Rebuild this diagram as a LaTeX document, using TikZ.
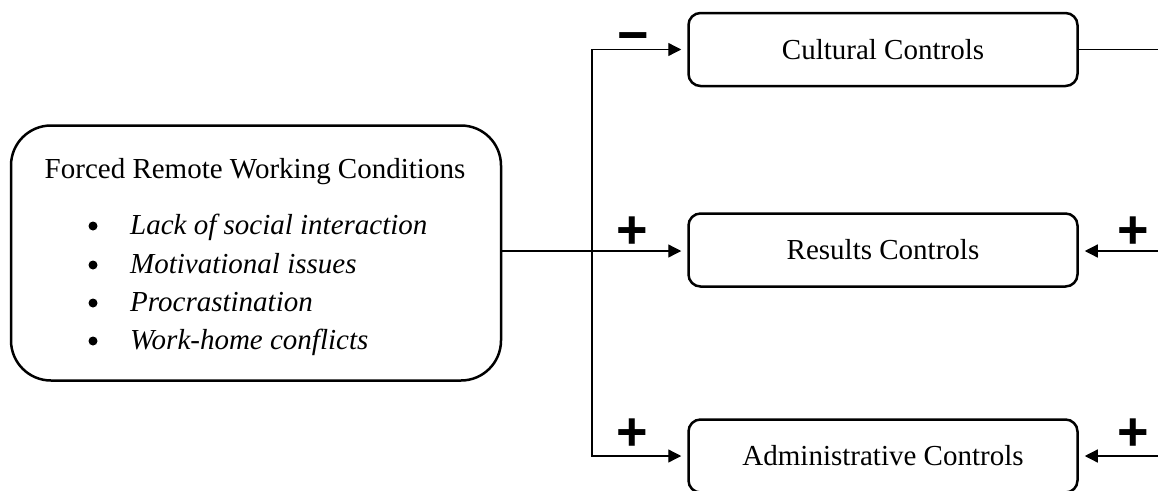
\documentclass[tikz,border=0pt]{standalone}
\usepackage{fontspec}
\setmainfont{Liberation Serif}
\newfontfamily\signfont{Liberation Sans}
\usetikzlibrary{arrows.meta,calc}
\tikzset{
  ctrlbox/.style={draw, line width=2.5pt, rounded corners=12pt, minimum width=389pt, minimum height=73pt, inner sep=0pt, font=\fontsize{29}{34}\selectfont},
  mainbox/.style={draw, line width=2.5pt, rounded corners=40pt, minimum width=490pt, minimum height=255pt, inner sep=0pt},
  conn/.style={line width=1.3pt},
  arr/.style={conn, -{Triangle[length=13pt,width=13pt]}, shorten >=6pt},
  sign/.style={font=\signfont\bfseries\fontsize{54}{54}\selectfont, inner sep=0pt},
  txt/.style={font=\fontsize{29}{34}\selectfont, inner sep=0pt},
  itm/.style={font=\itshape\fontsize{29}{34}\selectfont, inner sep=0pt, anchor=base west},
  bul/.style={circle, fill, minimum size=9pt, inner sep=0pt}
}
\begin{document}
\begin{tikzpicture}[x=1pt,y=-1pt]
\useasboundingbox (0,0) rectangle (1158,490);
% left box
\node[mainbox] (L) at (256,253) {};
\node[txt, anchor=base] (title) at (255,178) {Forced Remote Working Conditions};
\node[bul] (b1) at (93,226) {};
\node[bul] (b2) at (93,265) {};
\node[bul] (b3) at (93,303) {};
\node[bul] (b4) at (93,341) {};
\node[itm] (i1) at (130,234) {Lack of social interaction};
\node[itm] (i2) at (130,273) {Motivational issues};
\node[itm] (i3) at (130,311) {Procrastination};
\node[itm] (i4) at (130,349) {Work-home conflicts};
% control boxes
\node[ctrlbox] (C) at (883,49.5) {Cultural Controls};
\node[ctrlbox] (R) at (883,250) {Results Controls};
\node[ctrlbox] (A) at (883,456) {Administrative Controls};
% connectors
\coordinate (v) at (592,251);
\coordinate (rc) at (1158,49.5);
\coordinate (rr) at (1158,251);
\coordinate (ra) at (1158,456);
\draw[arr] (L.east |- v) -- (R.west |- v);
\draw[arr] (v) |- (C.west);
\draw[arr] (v) |- (A.west);
\draw[conn] (C.east) -- (rc);
\draw[arr] (rr) -- (R.east |- rr);
\draw[arr] (ra) -- (A.east);
% signs
\node[sign] (s1) at (633,43) {−};
\node[sign] (s2) at (632,233) {+};
\node[sign] (s3) at (1133,233) {+};
\node[sign] (s4) at (632,435) {+};
\node[sign] (s5) at (1133,435) {+};
\end{tikzpicture}
\end{document}
